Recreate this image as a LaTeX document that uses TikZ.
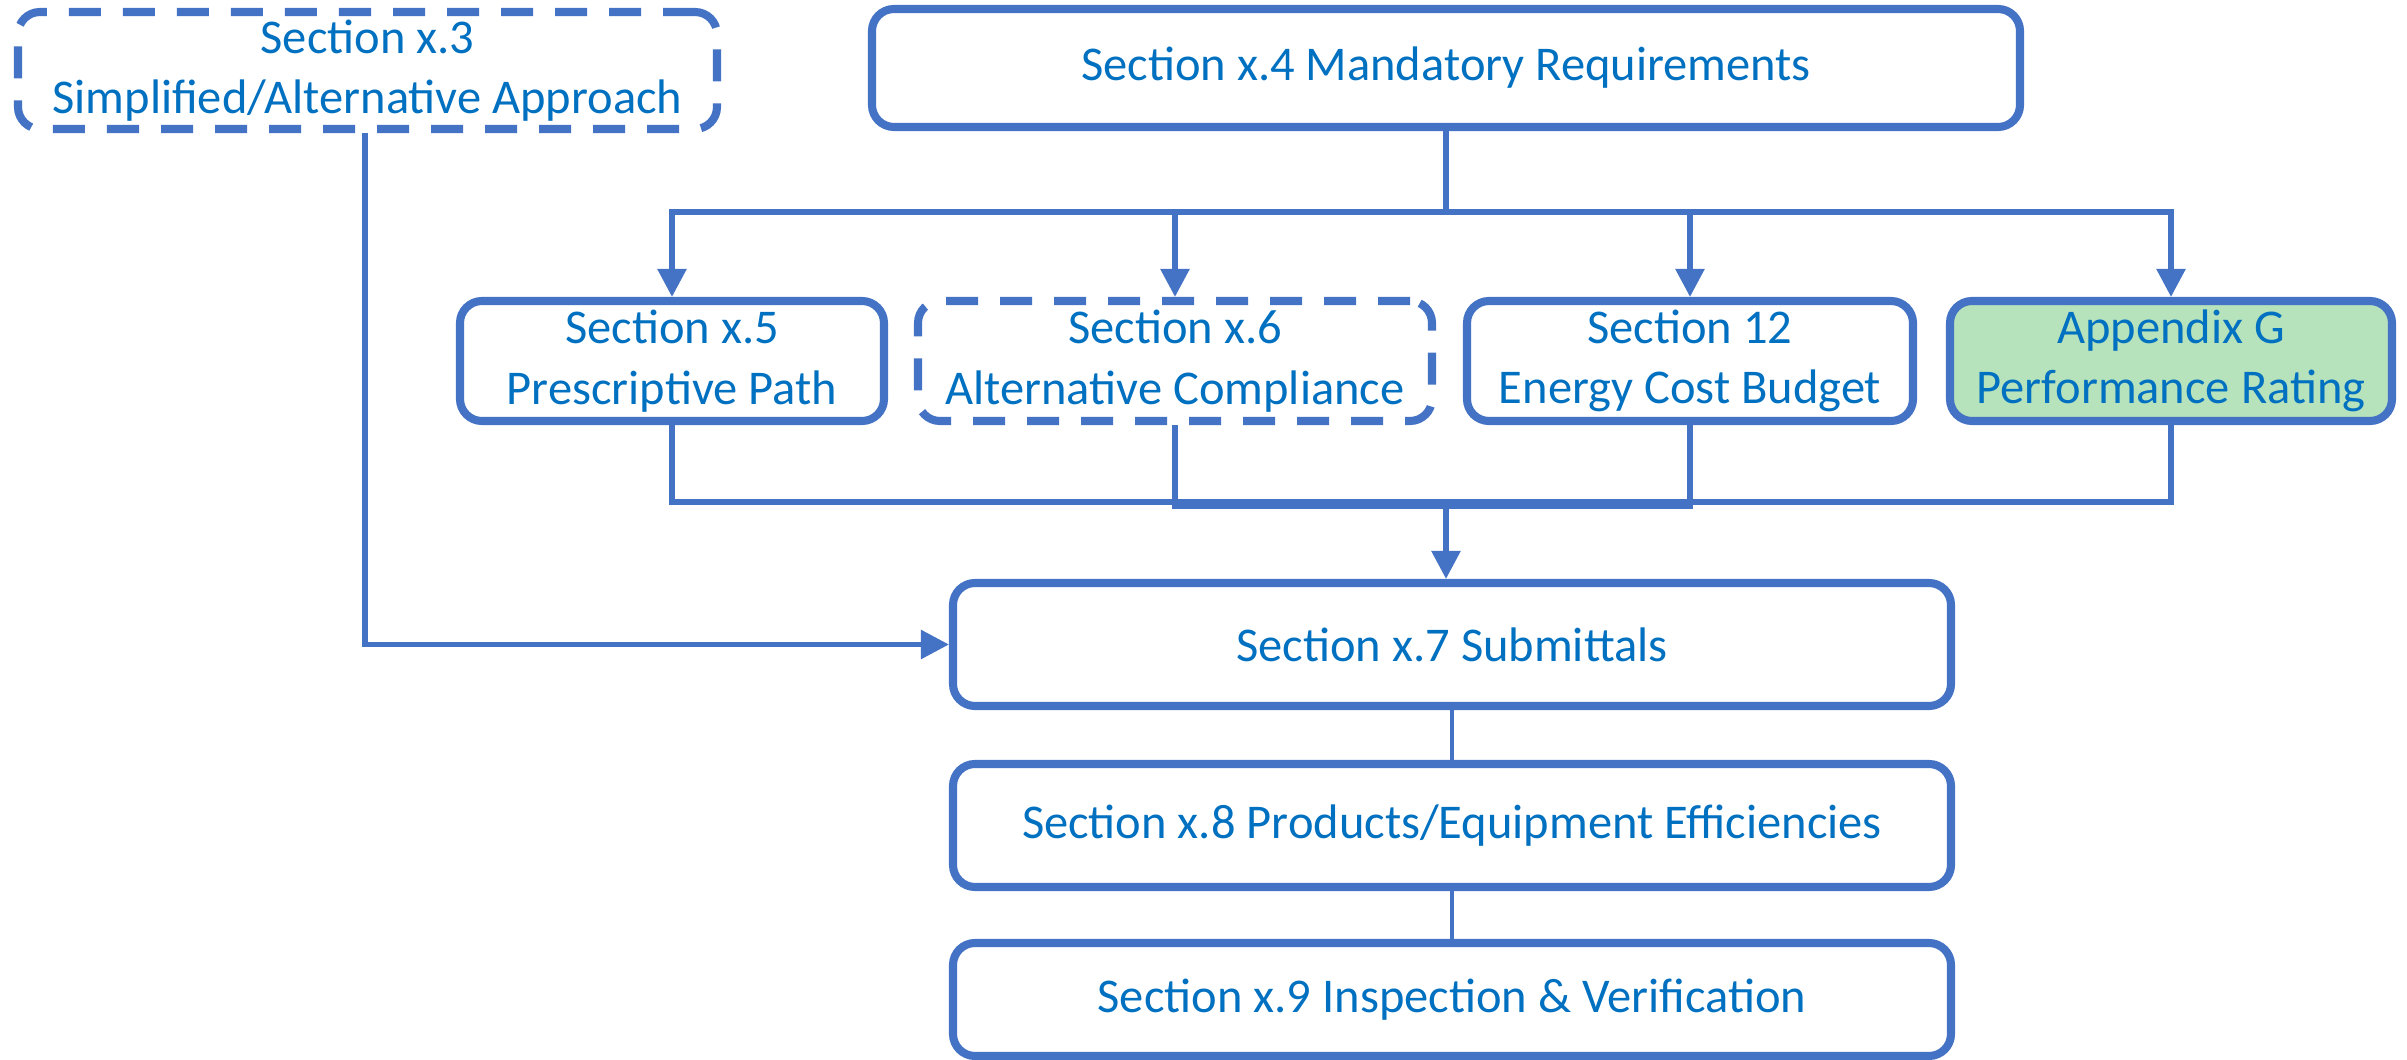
\documentclass[tikz,border=0pt]{standalone}
\usepackage{fontspec}
\setmainfont{Carlito}
\usetikzlibrary{arrows.meta, positioning}
\definecolor{boxblue}{HTML}{4472C4}
\definecolor{textblue}{HTML}{0070C0}
\definecolor{pathgreen}{HTML}{B6E2BC}

\begin{document}
\begin{tikzpicture}[font=\fontsize{13.8}{17.2}\selectfont,
    sec/.style={draw=boxblue, line width=2.3pt, rounded corners=0.22cm, text=textblue,
        align=center, inner sep=0pt, fill=white},
    optsec/.style={sec, dash pattern=on 0.32cm off 0.22cm},
    link/.style={draw=boxblue, line width=1.6pt},
    arr/.style={link, -{Triangle[width=8pt, length=8pt]}}]
    \useasboundingbox (0,0) rectangle (24.07,-10.60);
    % Top level
    \node[optsec, minimum width=6.99cm, minimum height=1.17cm] (s3) at (3.675,-0.705)
        {Section x.3\\Simplified/Alternative Approach};
    \node[sec, minimum width=11.48cm, minimum height=1.18cm] (s4) at (14.46,-0.68)
        {Section x.4 Mandatory Requirements};
    % Compliance paths
    \node[sec, minimum width=4.24cm, minimum height=1.2cm] (s5) at (6.72,-3.61)
        {Section x.5\\Prescriptive Path};
    \node[optsec, minimum width=5.14cm, minimum height=1.2cm] (s6) at (11.75,-3.61)
        {Section x.6\\Alternative Compliance};
    \node[sec, minimum width=4.46cm, minimum height=1.2cm] (s12) at (16.90,-3.61)
        {Section 12\\Energy Cost Budget};
    \node[sec, fill=pathgreen, minimum width=4.42cm, minimum height=1.2cm] (apg) at (21.71,-3.61)
        {Appendix G\\Performance Rating};
    % Closing steps
    \node[sec, minimum width=9.98cm, minimum height=1.23cm] (s7) at (14.52,-6.445)
        {Section x.7 Submittals};
    \node[sec, minimum width=9.98cm, minimum height=1.23cm] (s8) at (14.52,-8.255)
        {Section x.8 Products/Equipment Efficiencies};
    \node[sec, minimum width=9.98cm, minimum height=1.13cm] (s9) at (14.52,-9.995)
        {Section x.9 Inspection \& Verification};
    % Fork and join
    \coordinate (fork) at (14.46,-2.12);
    \coordinate (join) at (14.46,-5.02);
    \coordinate (join2) at (14.46,-5.06);
    \draw[link] (s4.south -| fork) -- (fork);
    \foreach \n in {s5,s6,s12,apg}
        \draw[arr] (fork) -| (\n.north);
    \draw[link] (s5.south) |- (join) -| (apg.south);
    \draw[link] (s6.south) |- (join2) -| (s12.south);
    \draw[arr] (join) -- (join |- s7.north);
    \draw[arr] (s3.south -| 3.65,0) |- (s7.west);
    \draw[link, line width=1.1pt] (s7) -- (s8);
    \draw[link, line width=1.1pt] (s8) -- (s9);
\end{tikzpicture}
\end{document}
